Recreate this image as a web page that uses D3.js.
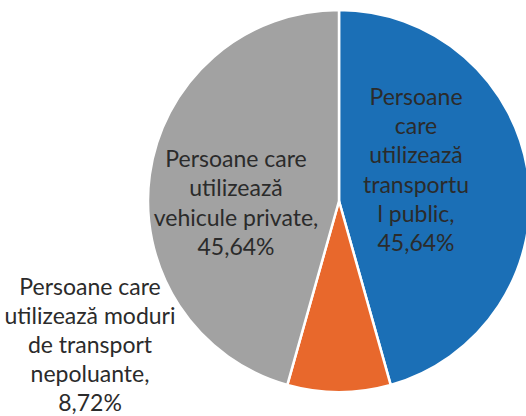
<!DOCTYPE html>
<html lang="ro">
<head>
<meta charset="UTF-8">
<title>Moduri de transport</title>
<script src="https://cdnjs.cloudflare.com/ajax/libs/d3/7.8.5/d3.min.js"></script>
<style>
  body { margin: 0; background: #fff; }
  text { font-family: Lato, "Open Sans", sans-serif; fill: #2b2b2b; }
</style>
</head>
<body>
<svg width="526" height="416" id="chart"></svg>
<script>
// data, in the order the slices go round (clockwise from 12 o'clock)
const categories = [
  "Persoane care utilizează transportul public",
  "Persoane care utilizează moduri de transport nepoluante",
  "Persoane care utilizează vehicule private"
];
const values = [45.64, 8.72, 45.64];
// label text as Excel wrapped it
const labelLines = [
  ["Persoane", "care", "utilizează", "transportu", "l public,", "45,64%"],
  ["Persoane care", "utilizează moduri", "de transport", "nepoluante,", "8,72%"],
  ["Persoane care", "utilizează", "vehicule private,", "45,64%"]
];
const colors = ["#1b6fb6", "#e8682c", "#a2a2a2"];

// layout
const cx = 339, cy = 201, radius = 191;
const lineH = 29.2;
// label centre relative to pie centre
const labelPos = [[77, -31], [-249, 144], [-103, 2]];

const svg = d3.select("#chart");
const g = svg.append("g").attr("transform", "translate(" + cx + "," + cy + ")");

const pie = d3.pie().sort(null).value(d => d);
const arc = d3.arc().innerRadius(0).outerRadius(radius);
const arcs = pie(values);

g.selectAll("path")
  .data(arcs)
  .join("path")
  .attr("d", arc)
  .attr("fill", (d, i) => colors[i])
  .attr("stroke", "#fff")
  .attr("stroke-width", 2.5)
  .attr("stroke-linejoin", "round");

const labels = g.selectAll("text.lbl")
  .data(arcs)
  .join("text")
  .attr("class", "lbl")
  .attr("text-anchor", "middle")
  .attr("font-size", 23)
  .attr("transform", (d, i) => "translate(" + labelPos[i][0] + "," + labelPos[i][1] + ")");

labels.each(function(d, i) {
  const lines = labelLines[i];
  const top = -(lines.length - 1) / 2 * lineH;
  d3.select(this).selectAll("tspan")
    .data(lines)
    .join("tspan")
    .attr("x", 0)
    .attr("y", (l, j) => top + j * lineH)
    .attr("dy", "0.35em")
    .text(l => l);
});
</script>
</body>
</html>
